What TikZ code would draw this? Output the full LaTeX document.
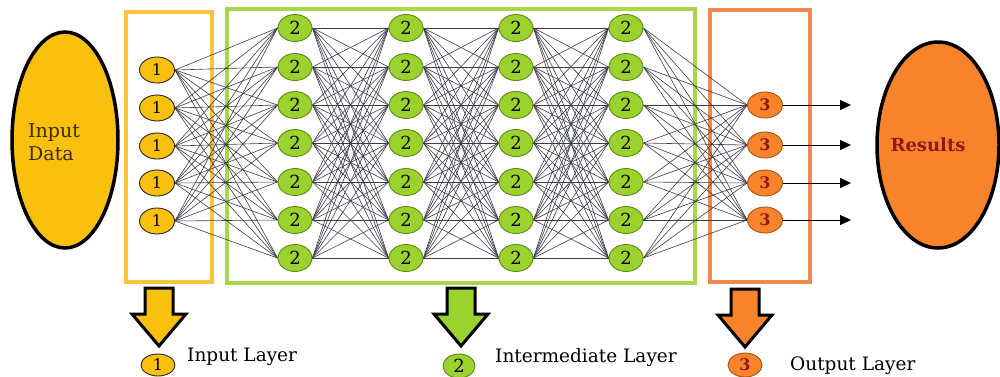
\documentclass[tikz,border=0pt]{standalone}
\usepackage{fontspec}
\setmainfont{DejaVu Serif}
\usetikzlibrary{shapes.geometric,arrows.meta,backgrounds}
\definecolor{iny}{HTML}{F9C10E}
\definecolor{inbox}{HTML}{F8C43C}
\definecolor{gr}{HTML}{9BD22E}
\definecolor{grdark}{HTML}{5E8A17}
\definecolor{grbox}{HTML}{A8D84A}
\definecolor{org}{HTML}{F7832B}
\definecolor{orgdark}{HTML}{A4541A}
\definecolor{orgbox}{HTML}{EF8A48}
\definecolor{edgecol}{HTML}{3C3C48}
\definecolor{resred}{HTML}{8E1B1B}
\definecolor{datatext}{HTML}{3C2A05}
\begin{document}
\begin{tikzpicture}[x=1pt,y=-1pt,
  innode/.style={ellipse,draw=black!85,line width=0.9pt,fill=iny,minimum width=35pt,minimum height=26pt,inner sep=0pt,font=\fontsize{16}{16}\selectfont},
  hidnode/.style={ellipse,draw=grdark,line width=0.9pt,fill=gr,minimum width=34pt,minimum height=27pt,inner sep=0pt,font=\fontsize{18}{18}\selectfont},
  outnode/.style={ellipse,draw=orgdark,line width=0.9pt,fill=org,minimum width=35pt,minimum height=26pt,inner sep=0pt,font=\fontsize{16}{16}\selectfont\bfseries,text=resred},
  bigell/.style={ellipse,draw=black,line width=3.5pt,inner sep=0pt},
  layerbox/.style={line width=3.5pt},
  link/.style={draw=edgecol,line width=0.6pt},
  outarrow/.style={draw=black,line width=1pt,-{Triangle[length=11pt,width=10pt]}},
  legendtext/.style={anchor=west,inner sep=0pt,font=\fontsize{18.5}{20}\selectfont},
  blockarrow/.pic={\path[pic actions,draw=black,line width=3pt] (-14,0) -- (14,0) -- (14,26) -- (27,26) -- (0,58) -- (-27,26) -- (-14,26) -- cycle;}
]
\useasboundingbox (0,0) rectangle (1000,376);

% big ellipses
\node[bigell,fill=iny,minimum width=106pt,minimum height=216pt] (data) at (65,140) {};
\node[anchor=west,align=left,inner sep=0pt,text=datatext,font=\fontsize{19}{23}\selectfont] (datatxt) at (28,142) {Input\\Data};
\node[bigell,fill=org,minimum width=122pt,minimum height=206pt] (res) at (938,145) {};
\node[text=resred,font=\fontsize{18}{18}\selectfont\bfseries] (restxt) at (928,145) {Results};

% nodes
\foreach \y [count=\i] in {70,108,146,183,221}
  \node[innode] (i\i) at (157,\y) {1};
\foreach \x [count=\c] in {295,406,516,626}
  \foreach \y [count=\r] in {28,67,105,143,182,220,258}
    \node[hidnode] (h\c-\r) at (\x,\y) {2};
\foreach \y [count=\i] in {105,145,183,220}
  \node[outnode] (o\i) at (765,\y) {3};

\begin{scope}[on background layer]
  \draw[layerbox,draw=inbox] (126,12) rectangle (212,282);
  \draw[layerbox,draw=grbox] (227,9) rectangle (695,283);
  \draw[layerbox,draw=orgbox] (710,10) rectangle (810,282);
  \foreach \i in {1,...,5}
    \foreach \r in {1,...,7}
      \draw[link] (i\i.east) -- (h1-\r.west);
  \foreach \c/\n in {1/2,2/3,3/4}
    \foreach \a in {1,...,7}
      \foreach \b in {1,...,7}
        \draw[link] (h\c-\a.east) -- (h\n-\b.west);
  \foreach \a in {1,...,7}
    \foreach \b in {1,...,4}
      \draw[link] (h4-\a.east) -- (o\b.west);
\end{scope}

% output arrows
\foreach \y [count=\i] in {105,145,183,220} {
  \coordinate (e\i) at (851,\y);
  \draw[outarrow] (o\i.east) -- (e\i);
}

% legend
\pic[fill=iny] at (159,288) {blockarrow};
\pic[fill=gr] at (461,288) {blockarrow};
\pic[fill=org] at (745,289) {blockarrow};
\node[innode,minimum width=34pt,minimum height=22pt] (l1) at (158,365) {1};
\node[hidnode,minimum width=32pt,minimum height=24pt] (l2) at (459,366) {2};
\node[outnode,minimum width=34pt,minimum height=24pt] (l3) at (745,365) {3};
\node[legendtext] (t1) at (187,357) {Input Layer};
\node[legendtext] (t2) at (495,358) {Intermediate Layer};
\node[legendtext] (t3) at (790,366) {Output Layer};
\end{tikzpicture}
\end{document}
